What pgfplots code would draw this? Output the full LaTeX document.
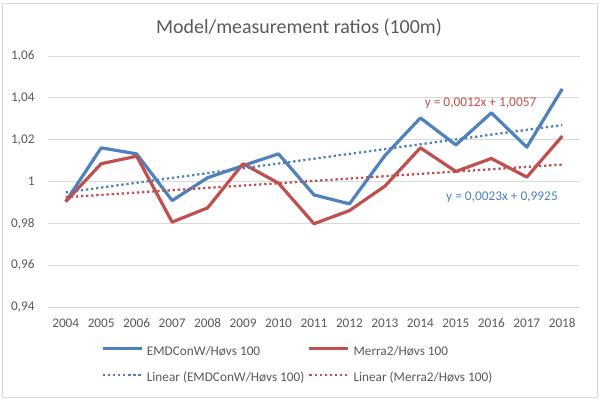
\documentclass[border=0pt]{standalone}
\usepackage{pgfplots}
\pgfplotsset{compat=1.18}
\usepackage{fontspec}
\setmainfont{Carlito}
\definecolor{eblue}{HTML}{4F81BD}
\definecolor{ered}{HTML}{C0504D}
\definecolor{txt}{HTML}{595959}
\definecolor{gridc}{HTML}{D9D9D9}
\begin{document}
\begin{tikzpicture}[x=1bp,y=1bp]
\useasboundingbox (0,0) rectangle (600,401);
\draw[gridc, line width=0.8bp] (2,4) rectangle (597.5,398);
\node[text=txt, font=\fontsize{20}{22}\selectfont, anchor=base] at (299,368) {Model/measurement ratios (100m)};
\begin{axis}[
  at={(48bp,94bp)}, anchor=south west,
  scale only axis, width=532bp, height=251bp,
  xmin=2003.5, xmax=2018.5, ymin=0.94, ymax=1.06,
  xtick={2004,...,2018},
  xticklabels={2004,2005,2006,2007,2008,2009,2010,2011,2012,2013,2014,2015,2016,2017,2018},
  ytick={0.94,0.96,0.98,1,1.02,1.04,1.06},
  yticklabels={{0,94},{0,96},{0,98},1,{1,02},{1,04},{1,06}},
  ymajorgrids, grid style={gridc, line width=0.8bp},
  axis line style={draw=none},
  major tick length=0pt,
  tick label style={text=txt, font=\fontsize{13.3}{15}\selectfont},
  yticklabel style={xshift=-10bp},
  xticklabel style={yshift=-8bp},
  clip=false,
  legend columns=2,
  legend cell align=left,
  legend style={at={(0.0996,-0.231)}, anchor=west, draw=none, fill=none, inner sep=0pt,
    font=\fontsize{13.3}{15}\selectfont, text=txt,
    nodes={inner xsep=0bp, inner ysep=0bp, text height=9.5bp, text depth=3bp},
    /tikz/every even column/.append style={column sep=3.5bp},
    row sep=13.5bp},
  legend image code/.code={\draw[#1] (0bp,3.2bp) -- (39bp,3.2bp); \path (42.5bp,3.2bp);},
]
\draw[gridc, line width=0.8bp] (axis cs:2003.5,0.94) -- (axis cs:2018.5,0.94);
\addplot[eblue, line width=3.2bp, line join=round] coordinates {
(2004,0.9904) (2005,1.0161) (2006,1.0132) (2007,0.9909) (2008,1.0018)
(2009,1.0076) (2010,1.0132) (2011,0.9936) (2012,0.9893) (2013,1.0124)
(2014,1.0304) (2015,1.0175) (2016,1.0328) (2017,1.0164) (2018,1.0443)};
\addlegendentry{EMDConW/Høvs 100}
\addplot[ered, line width=3.2bp, line join=round] coordinates {
(2004,0.9904) (2005,1.0085) (2006,1.0121) (2007,0.9806) (2008,0.9874)
(2009,1.0085) (2010,0.9992) (2011,0.9798) (2012,0.9861) (2013,0.9978)
(2014,1.0161) (2015,1.0048) (2016,1.0110) (2017,1.0021) (2018,1.0217)};
\addlegendentry{Merra2/Høvs 100}
\addplot[eblue, line width=2.3bp, dash pattern=on 2.3bp off 2.8bp] coordinates {
(2004,0.9948) (2018,1.0270)};
\addlegendentry{Linear (EMDConW/Høvs 100)}
\addplot[ered, line width=2.3bp, dash pattern=on 2.3bp off 2.8bp] coordinates {
(2004,0.9925) (2018,1.0081)};
\addlegendentry{Linear (Merra2/Høvs 100)}
\node[text=ered, font=\fontsize{13.4}{15}\selectfont] at (axis cs:2015.695,1.0373) {y = 0,0012x + 1,0057};
\node[text=eblue, font=\fontsize{13.4}{15}\selectfont] at (axis cs:2016.3,0.9923) {y = 0,0023x + 0,9925};
\end{axis}
\end{tikzpicture}
\end{document}
